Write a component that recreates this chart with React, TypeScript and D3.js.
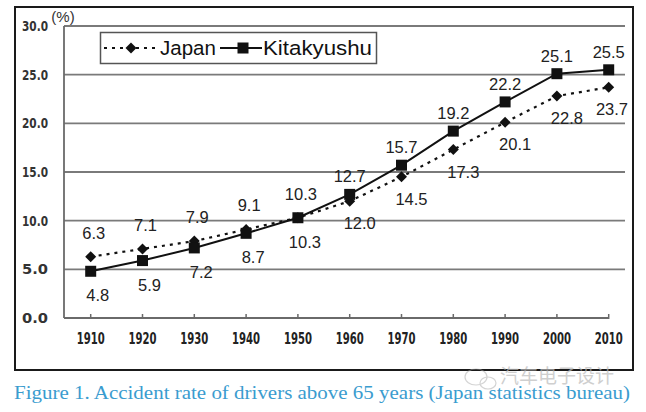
import React from "react";
import * as d3 from "d3";

const years = [1910, 1920, 1930, 1940, 1950, 1960, 1970, 1980, 1990, 2000, 2010];
const japan = [6.3, 7.1, 7.9, 9.1, 10.3, 12.0, 14.5, 17.3, 20.1, 22.8, 23.7];
const kitakyushu = [4.8, 5.9, 7.2, 8.7, 10.3, 12.7, 15.7, 19.2, 22.2, 25.1, 25.5];
const yTicks = [0, 5, 10, 15, 20, 25, 30];
// label side: true = above the point
const japanAbove = [true, true, true, true, true, false, false, false, false, false, false];
const kitaAbove = [false, false, false, false, false, true, true, true, true, true, true];
const caption = "Figure 1. Accident rate of drivers above 65 years (Japan statistics bureau)";

const W = 646;
const H = 412;

export default function App() {
  const x = d3.scalePoint<number>().domain(years).range([90.7, 608.7]);
  const y = d3.scaleLinear().domain([0, 30]).range([318, 26]);
  const axisLeft = 64;
  const gridRight = 625;

  const line = d3.line<number>().x((_, i) => x(years[i]) as number).y(d => y(d));

  const labelFont = "'Liberation Sans', Arial, sans-serif";
  const tickFont = "'DejaVu Sans Condensed', 'DejaVu Sans', sans-serif";

  const diamond = (cx: number, cy: number, r: number) =>
    `M${cx},${cy - r}L${cx + r},${cy}L${cx},${cy + r}L${cx - r},${cy}Z`;

  // keep labels inside the frame
  const labelX = (px: number) => Math.min(px, 612);

  return (
    <svg width={W} height={H} style={{ position: "absolute", left: 0, top: 0, background: "#fff" }}>
      <rect x={0} y={0} width={W} height={H} fill="#fff" />
      {/* frame */}
      <rect x={15} y={7} width={618} height={363} fill="none" stroke="#1a1a1a" strokeWidth={2} />

      {/* grid */}
      {yTicks.filter(t => t > 0).map(t => (
        <line key={t} x1={axisLeft} x2={gridRight} y1={y(t)} y2={y(t)} stroke="#7a7a7a" strokeWidth={1.8} />
      ))}
      {/* axes */}
      <line x1={axisLeft} x2={axisLeft} y1={y(30)} y2={y(0)} stroke="#6a6a6a" strokeWidth={1.8} />
      <line x1={axisLeft} x2={x(2010)} y1={y(0)} y2={y(0)} stroke="#6a6a6a" strokeWidth={1.8} />
      {years.map(yr => (
        <line key={yr} x1={x(yr)} x2={x(yr)} y1={y(0) - 4} y2={y(0) + 1} stroke="#6a6a6a" strokeWidth={1.5} />
      ))}

      {yTicks.map(t => (
        <text key={t} x={48} y={y(t)} dy="0.36em" textAnchor="end" fontFamily={tickFont}
          fontWeight="bold" fontSize={14} fill="#333" textLength={26}
          lengthAdjust="spacingAndGlyphs">{t.toFixed(1)}</text>
      ))}
      <text x={63} y={22} textAnchor="middle" fontFamily={labelFont} fontSize={15} fill="#333">(%)</text>

      {years.map(yr => (
        <text key={yr} x={x(yr)} y={344} textAnchor="middle" fontFamily={tickFont}
          fontWeight="bold" fontSize={16} fill="#222" textLength={28}
          lengthAdjust="spacingAndGlyphs">{yr}</text>
      ))}

      {/* series */}
      <path d={line(japan) || ""} fill="none" stroke="#111" strokeWidth={2.2} strokeDasharray="3,5" />
      <path d={line(kitakyushu) || ""} fill="none" stroke="#111" strokeWidth={2} />
      {japan.map((v, i) => (
        <path key={i} d={diamond(x(years[i]) as number, y(v), 5.5)} fill="#111" />
      ))}
      {kitakyushu.map((v, i) => (
        <rect key={i} x={(x(years[i]) as number) - 5.5} y={y(v) - 5.5} width={11} height={11} fill="#111" />
      ))}

      {/* value labels */}
      {japan.map((v, i) => (
        <text key={i} x={labelX((x(years[i]) as number) + (japanAbove[i] ? 3 : 10))}
          y={y(v) + (japanAbove[i] ? -24 : 22)} dy="0.36em" textAnchor="middle"
          fontFamily={labelFont} fontSize={16.5} fill="#222">{v.toFixed(1)}</text>
      ))}
      {kitakyushu.map((v, i) => (
        <text key={i} x={labelX((x(years[i]) as number) + (kitaAbove[i] ? 0 : 7))}
          y={y(v) + (kitaAbove[i] ? -18 : 24)} dy="0.36em" textAnchor="middle"
          fontFamily={labelFont} fontSize={16.5} fill="#222">{v.toFixed(1)}</text>
      ))}

      {/* legend */}
      <rect x={100.5} y={32.5} width={276} height={31} fill="#fff" stroke="#555" strokeWidth={1.5} />
      <line x1={104} x2={156} y1={48} y2={48} stroke="#111" strokeWidth={2} strokeDasharray="3,5" />
      <path d={diamond(131, 48, 5.5)} fill="#111" />
      <text x={160} y={48} dy="0.36em" fontFamily={labelFont} fontSize={20.5} fill="#111">Japan</text>
      <line x1={220} x2={262} y1={48} y2={48} stroke="#111" strokeWidth={2} />
      <rect x={237.5} y={42.5} width={11} height={11} fill="#111" />
      <text x={263} y={48} dy="0.36em" fontFamily={labelFont} fontSize={20.5} fill="#111"
        textLength={109} lengthAdjust="spacingAndGlyphs">Kitakyushu</text>

      {/* watermark */}
      <g opacity={0.5} stroke="#aaa" fill="none" strokeWidth={1.2}>
        <ellipse cx={476} cy={377} rx={11} ry={8} />
        <ellipse cx={488} cy={383} rx={8} ry={6} />
      </g>
      <text x={500} y={383} fontFamily="'Noto Sans CJK SC', sans-serif" fontSize={19} fill="#bbb"
        opacity={0.7}>汽车电子设计</text>

      {/* caption */}
      <text x={14} y={399} fontFamily="'Liberation Serif', 'Times New Roman', serif" fontSize={18.5}
        fill="#3a9ccf" textLength={616} lengthAdjust="spacingAndGlyphs">{caption}</text>
    </svg>
  );
}
